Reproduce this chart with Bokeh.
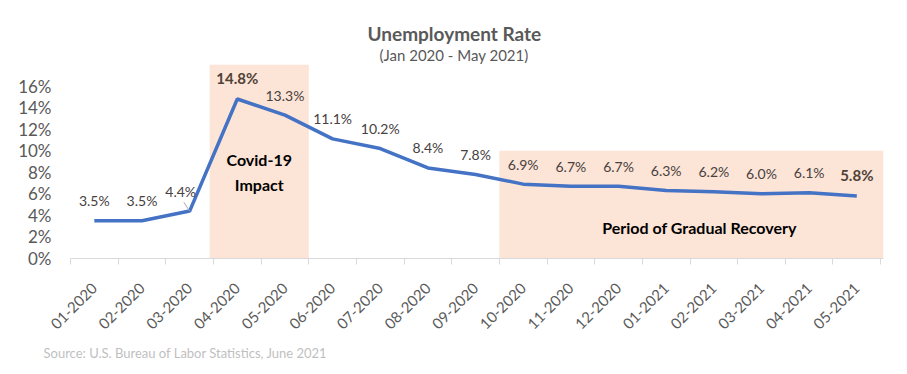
import math
from bokeh.plotting import figure
from bokeh.models import (ColumnDataSource, FixedTicker, PrintfTickFormatter, LabelSet,
                          Label, Title, Range1d)
from bokeh.core.properties import value
from bokeh.embed import file_html
from bokeh.resources import INLINE

# ---- data ----
months = ["01-2020", "02-2020", "03-2020", "04-2020", "05-2020", "06-2020",
          "07-2020", "08-2020", "09-2020", "10-2020", "11-2020", "12-2020",
          "01-2021", "02-2021", "03-2021", "04-2021", "05-2021"]
rates = [3.5, 3.5, 4.4, 14.8, 13.3, 11.1, 10.2, 8.4, 7.8, 6.9, 6.7, 6.7,
         6.3, 6.2, 6.0, 6.1, 5.8]
bold_months = ["04-2020", "05-2021"]
offset_month = "03-2020"

period_names = ["Covid-19 Impact", "Period of Gradual Recovery"]
period_left = [2.92, 9.0]
period_right = [5.0, 17.06]
period_top = [18.0, 10.0]

y_ticks = [0, 2, 4, 6, 8, 10, 12, 14, 16]

FONT = "Lato"
GRAY = "#595959"
LBL = "#474140"

xs = [i + 0.5 for i in range(len(months))]

p = figure(width=891, height=366, output_backend="svg", toolbar_location=None,
           x_range=Range1d(0, 17.06), y_range=Range1d(0, 18),
           min_border_left=70, min_border_right=8, min_border_top=64,
           min_border_bottom=105)
p.background_fill_color = "white"
p.border_fill_color = "white"
p.outline_line_color = None
p.xgrid.grid_line_color = None
p.ygrid.grid_line_color = None

# shaded periods
p.quad(left=period_left, right=period_right, bottom=[0, 0], top=period_top,
       fill_color="#FCE4D6", line_color=None)

# line
src = ColumnDataSource(dict(x=xs, y=rates))
p.line("x", "y", source=src, line_color="#4472C4", line_width=3.5)

# data labels
norm_idx = [i for i, m in enumerate(months) if m not in bold_months and m != offset_month]
bold_idx = [i for i, m in enumerate(months) if m in bold_months]
src_n = ColumnDataSource(dict(x=[xs[i] for i in norm_idx], y=[rates[i] for i in norm_idx],
                              t=[f"{rates[i]:.1f}%" for i in norm_idx]))
src_b = ColumnDataSource(dict(x=[xs[i] for i in bold_idx], y=[rates[i] for i in bold_idx],
                              t=[f"{rates[i]:.1f}%" for i in bold_idx]))
p.add_layout(LabelSet(x="x", y="y", text="t", source=src_n, y_offset=20,
                      text_align="center", text_baseline="middle",
                      text_font=value(FONT), text_font_size="14px", text_color=LBL))
p.add_layout(LabelSet(x="x", y="y", text="t", source=src_b, y_offset=21,
                      text_align="center", text_baseline="middle",
                      text_font=value(FONT), text_font_size="15px", text_font_style="bold",
                      text_color="#4f4237"))
oi = months.index(offset_month)
p.add_layout(Label(x=xs[oi], y=rates[oi], text=f"{rates[oi]:.1f}%", x_offset=-9, y_offset=20,
                   text_align="center", text_baseline="middle",
                   text_font=FONT, text_font_size="14px", text_color=LBL))
# leader line from the offset label to its point
p.segment(x0=[xs[oi] - 0.12], y0=[rates[oi] + 0.8], x1=[xs[oi]], y1=[rates[oi]],
          line_color="#A6A6A6", line_width=1)

# period annotations
cov_x = (period_left[0] + period_right[0]) / 2
p.add_layout(Label(x=cov_x, y=9.14, text="Covid-19", text_align="center",
                   text_baseline="middle", text_font=FONT, text_font_size="16px",
                   text_font_style="bold", text_color="black"))
p.add_layout(Label(x=cov_x, y=6.86, text="Impact", text_align="center",
                   text_baseline="middle", text_font=FONT, text_font_size="16px",
                   text_font_style="bold", text_color="black"))
rec_x = (period_left[1] + period_right[1]) / 2
p.add_layout(Label(x=rec_x, y=2.9, x_offset=8, text=period_names[1], text_align="center",
                   text_baseline="middle", text_font=FONT, text_font_size="16px",
                   text_font_style="bold", text_color="black"))

# axes
xa = p.xaxis[0]
xa.ticker = FixedTicker(ticks=xs, minor_ticks=list(range(len(months) + 1)))
xa.major_label_overrides = {x: m for x, m in zip(xs, months)}
xa.major_label_orientation = math.pi / 4
xa.major_tick_line_color = None
xa.minor_tick_line_color = "#D9D9D9"
xa.minor_tick_in = 0
xa.minor_tick_out = 6
xa.axis_line_color = "#D9D9D9"
xa.major_label_text_font = FONT
xa.major_label_text_font_size = "15px"
xa.major_label_text_color = GRAY
xa.major_label_standoff = 21

ya = p.yaxis[0]
ya.ticker = FixedTicker(ticks=y_ticks)
ya.formatter = PrintfTickFormatter(format="%d%%")
ya.axis_line_color = None
ya.major_tick_line_color = None
ya.minor_tick_line_color = None
ya.major_label_text_font = FONT
ya.major_label_text_font_size = "17px"
ya.major_label_text_color = GRAY
ya.major_label_standoff = 13

# titles
p.add_layout(Title(text="(Jan 2020 - May 2021)", align="left", offset=309, standoff=1,
                   text_font=FONT, text_font_size="15px", text_font_style="normal",
                   text_color=GRAY), "above")
p.add_layout(Title(text="Unemployment Rate", align="left", offset=297, standoff=-2,
                   text_font=FONT, text_font_size="19px", text_font_style="bold",
                   text_color=GRAY), "above")

# source
p.add_layout(Title(text="Source: U.S. Bureau of Labor Statistics, June 2021", align="left",
                   offset=-27, standoff=11, text_font=FONT, text_font_size="13px",
                   text_font_style="normal", text_color="#BFBFBF"), "below")

open("out.html", "w").write(file_html(p, INLINE))
